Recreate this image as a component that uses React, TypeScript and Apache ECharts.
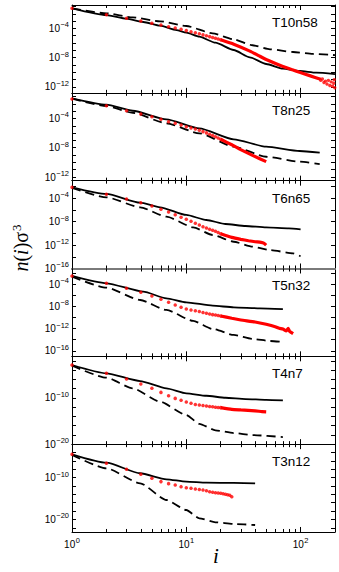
import React, { useEffect, useRef } from "react";
import * as echarts from "echarts";

// ---------- data (x = cluster size i, y = log10 of n(i)σ³) ----------
const panelNames = ["T10n58", "T8n25", "T6n65", "T5n32", "T4n7", "T3n12"];

const xMaxI = 200;
const xMajorI = [1, 10, 100];
const xMinorI = [2, 3, 4, 5, 6, 7, 8, 9, 20, 30, 40, 50, 60, 70, 80, 90];

const yMaxExp = [-0.8, -0.5, -1, -1.2, -1, -2];
const yMinExp = [-12.8, -12.5, -16, -17, -20, -23];
const yLabelExp = [
  [-12, -8, -4],
  [-12, -8, -4],
  [-16, -12, -8, -4],
  [-16, -12, -8, -4],
  [-20, -10],
  [-20, -10],
];
const yTickExp = [
  [-12, -11, -10, -9, -8, -7, -6, -5, -4, -3, -2, -1],
  [-12, -11, -10, -9, -8, -7, -6, -5, -4, -3, -2, -1],
  [-14, -12, -10, -8, -6, -4, -2],
  [-16, -14, -12, -10, -8, -6, -4, -2],
  [-18, -16, -14, -12, -10, -8, -6, -4, -2],
  [-22, -20, -18, -16, -14, -12, -10, -8, -6, -4],
];

// T10n58
const t10n58Solid = [[1, -1.25], [2, -2.17], [3, -2.67], [4.2, -3.12], [5.9, -3.62], [8.2, -4.22], [10, -4.58], [13, -5.13], [18, -5.95], [26, -6.95], [36, -7.95], [50, -8.86], [70, -9.5], [98, -9.82], [137, -10.05], [200, -10.25]];
const t10n58Dashed = [[1, -1.25], [2, -1.94], [3.4, -2.49], [5.9, -3.03], [10, -3.67], [17, -4.67], [26, -5.49], [38, -6.3], [54, -6.85], [86, -7.22], [128, -7.49], [200, -7.65]];
const t10n58RedDots = [-1.25, -2.12, -2.62, -2.99, -3.3, -3.53, -3.76, -3.94, -4.12, -4.3, -4.45, -4.6, -4.74, -4.88, -5.0, -5.12, -5.24, -5.35, -5.45, -5.55];
const t10n58RedTail = [[20, -5.55], [26, -6.15], [36, -7.1], [44, -7.8], [50, -8.25], [70, -9.2], [86, -9.68], [98, -10.0], [120, -10.45], [150, -10.95]];
const t10n58RedNoise = [[150, -11.1], [155, -10.9], [160, -11.4], [165, -11.2], [170, -11.6], [175, -11.1], [180, -11.8], [185, -11.3], [190, -11.9], [195, -11.5], [197, -11.0], [199, -12.1]];

// T8n25
const t8n25Solid = [[1, -1.25], [2, -2.12], [3.4, -2.95], [6.7, -4.12], [13, -5.35], [26, -6.85], [50, -7.86], [98, -8.45], [147, -8.68]];
const t8n25Dashed = [[1, -1.3], [2, -2.3], [3.4, -3.22], [6.7, -4.67], [13, -6.03], [26, -7.86], [50, -9.23], [98, -9.91], [147, -10.23]];
const t8n25RedDots = [-1.35, -2.26, -2.95, -3.4, -3.76, -4.12, -4.45, -4.67, -4.9, -5.13, -5.29, -5.45, -5.62, -5.8, -5.97, -6.15, -6.32, -6.5, -6.67, -6.85];
const t8n25RedTail = [[20, -6.85], [25, -7.6], [29, -8.15], [38, -9.05], [50, -9.9]];

// T6n65
const t6n65Solid = [[1, -2.13], [2, -3.27], [3.95, -4.76], [5.9, -5.55], [10, -6.86], [15, -7.72], [22, -8.4], [33, -8.74], [50, -8.97], [79, -9.14], [100, -9.31]];
const t6n65Dashed = [[1, -2.25], [2, -3.84], [3.95, -5.55], [6.7, -7.15], [11.5, -8.97], [17, -10.28], [26, -11.43], [38, -12.28], [54, -12.85], [86, -13.41], [100, -13.9]];
const t6n65RedDots = [-2.13, -3.33, -4.13, -4.76, -5.32, -5.89, -6.35, -6.81, -7.26, -7.6, -7.94, -8.28, -8.57, -8.86, -9.08, -9.31, -9.48, -9.65, -9.86, -10.06];
const t6n65RedTail = [[20, -10.06], [25, -10.68], [30, -11.02], [35, -11.26], [40, -11.43], [45, -11.53], [48, -11.7], [50, -12.0]];

// T5n32
const t5n32Solid = [[1, -2.55], [2, -3.86], [4.2, -5.37], [6.7, -6.56], [10, -7.28], [17, -7.89], [26, -8.18], [44, -8.36], [70, -8.5]];
const t5n32Dashed = [[1, -2.67], [2, -4.65], [3.95, -6.87], [6.7, -8.66], [11.5, -10.64], [17, -12.08], [26, -13.16], [38, -13.88], [54, -14.24], [70, -14.42]];
const t5n32RedDots = [-2.55, -3.86, -4.76, -5.48, -6.15, -6.74, -7.28, -7.76, -8.18, -8.48, -8.65, -8.79, -8.95, -9.1, -9.26, -9.38, -9.5, -9.58, -9.66, -9.74];
const t5n32RedTail = [[20, -9.74], [25, -10.16], [30, -10.46], [40, -10.82], [50, -11.24], [60, -11.67], [65, -11.96], [70, -12.08], [75, -12.44], [78, -11.95], [80, -12.5], [86, -12.93]];

// T4n7
const t4n7Solid = [[1, -2.88], [2, -4.68], [3.95, -6.35], [6.7, -7.93], [10, -9.0], [15, -9.53], [22, -9.96], [33, -10.24], [50, -10.42], [70, -10.55]];
const t4n7Dashed = [[1, -3.02], [2, -5.62], [3.4, -7.93], [5.9, -10.82], [10, -13.7], [13, -15.6], [18, -17.0], [26, -17.6], [38, -18.04], [70, -18.47]];
const t4n7RedDots = [-2.88, -4.68, -5.91, -7.0, -7.93, -8.8, -9.53, -10.1, -10.5, -10.9, -11.15, -11.4, -11.55, -11.65, -11.76, -11.85, -11.93, -12.0, -12.05, -12.1];
const t4n7RedTail = [[20, -12.1], [25, -12.47], [30, -12.6], [40, -12.8], [46, -12.95], [50, -13.0]];

// T3n12
const t3n12Solid = [[1, -4.42], [2, -6.43], [3.95, -8.96], [6.7, -10.4], [10, -10.97], [15, -11.21], [26, -11.28], [40, -11.36]];
const t3n12Dashed = [[1, -4.58], [2, -7.77], [3.95, -11.36], [6.7, -15.35], [10, -17.74], [13, -19.73], [18, -20.68], [26, -21.09], [40, -21.33]];
const t3n12RedDots = [-4.42, -6.57, -8.0, -9.2, -10.16, -10.96, -11.44, -11.76, -12.16, -12.4, -12.56, -12.72, -12.84, -12.96, -13.16, -13.36, -13.48, -13.6, -13.68, -13.75, -13.87, -13.99, -14.1, -14.23, -14.56];
const t3n12RedTail: number[][] = [];

const panelSolid = [t10n58Solid, t8n25Solid, t6n65Solid, t5n32Solid, t4n7Solid, t3n12Solid];
const panelDashed = [t10n58Dashed, t8n25Dashed, t6n65Dashed, t5n32Dashed, t4n7Dashed, t3n12Dashed];
const panelRedDots = [t10n58RedDots, t8n25RedDots, t6n65RedDots, t5n32RedDots, t4n7RedDots, t3n12RedDots];
const panelRedTail = [t10n58RedTail, t8n25RedTail, t6n65RedTail, t5n32RedTail, t4n7RedTail, t3n12RedTail];
const panelRedNoise = [t10n58RedNoise, [], [], [], [], []];

// ---------- layout / style ----------
const FONT = "'Liberation Sans', Arial, sans-serif";
const SERIF = "'Liberation Serif', 'Times New Roman', serif";
const GRID_LEFT = 72;
const GRID_RIGHT = 4;
const FIRST_TOP = 5;
const PANEL_H = 87.83;
const RED = "#ff0000";

const L = (v: number) => Math.log10(v);

function tickRich() {
  return {
    b: { fontSize: 10, fontFamily: FONT, color: "#000" },
    s: { fontSize: 7.5, fontFamily: FONT, color: "#000", padding: [0, 0, 7, 0.5] },
  };
}

function buildOption() {
  const grid: any[] = [];
  const xAxis: any[] = [];
  const yAxis: any[] = [];
  const series: any[] = [];
  const graphic: any[] = [];
  const n = panelNames.length;

  for (let k = 0; k < n; k++) {
    const top = FIRST_TOP + k * PANEL_H;
    grid.push({ left: GRID_LEFT, right: GRID_RIGHT, top, height: PANEL_H, containLabel: false });
    const grayBottom = k === 2;
    const grayTop = k === 3;

    const majorX = (position: string, showLabel: boolean, gray: boolean) => ({
      type: "value",
      gridIndex: k,
      position,
      min: 0,
      max: L(xMaxI),
      axisLine: { show: true, onZero: false, lineStyle: { color: gray ? "#7a7a7a" : "#000", width: gray ? 1.8 : 1 } },
      axisTick: { show: true, inside: true, length: 5, customValues: xMajorI.map(L), lineStyle: { color: "#000", width: 1 } },
      axisLabel: {
        show: showLabel,
        customValues: xMajorI.map(L),
        margin: 5,
        formatter: (v: number) => `{b|10}{s|${Math.round(v)}}`,
        rich: tickRich(),
      },
      splitLine: { show: false },
    });
    const minorX = (position: string) => ({
      type: "value",
      gridIndex: k,
      position,
      min: 0,
      max: L(xMaxI),
      axisLine: { show: false, onZero: false },
      axisTick: { show: true, inside: true, length: 3, customValues: xMinorI.map(L), lineStyle: { color: "#000", width: 1 } },
      axisLabel: { show: false },
      splitLine: { show: false },
    });
    xAxis.push(majorX("bottom", k === n - 1, grayBottom));
    xAxis.push(majorX("top", false, grayTop));
    xAxis.push(minorX("bottom"));
    xAxis.push(minorX("top"));

    const yAx = (position: string, showLabel: boolean) => ({
      type: "value",
      gridIndex: k,
      position,
      min: yMinExp[k],
      max: yMaxExp[k],
      axisLine: { show: true, onZero: false, lineStyle: { color: "#000", width: 1 } },
      axisTick: { show: true, inside: true, length: 4, customValues: yTickExp[k], lineStyle: { color: "#000", width: 1 } },
      axisLabel: {
        show: showLabel,
        customValues: yLabelExp[k],
        margin: 3,
        formatter: (v: number) => `{b|10}{s|\u2212${Math.round(-v)}}`,
        rich: tickRich(),
      },
      splitLine: { show: false },
    });
    yAxis.push(yAx("left", true));
    yAxis.push(yAx("right", false));

    const xi = 4 * k;
    const yi = 2 * k;
    series.push({
      type: "line",
      xAxisIndex: xi,
      yAxisIndex: yi,
      data: panelDashed[k].map(([i, v]) => [L(i), v]),
      showSymbol: false,
      smooth: 0.2,
      smoothMonotone: "x",
      lineStyle: { color: "#000", width: 1.8, type: [9, 5] },
      z: 2,
    });
    series.push({
      type: "line",
      xAxisIndex: xi,
      yAxisIndex: yi,
      data: panelSolid[k].map(([i, v]) => [L(i), v]),
      showSymbol: false,
      smooth: 0.2,
      smoothMonotone: "x",
      lineStyle: { color: "#000", width: 1.8 },
      z: 3,
    });
    if (panelRedTail[k].length) {
      series.push({
        type: "line",
        xAxisIndex: xi,
        yAxisIndex: yi,
        data: panelRedTail[k].map(([i, v]) => [L(i), v]),
        showSymbol: false,
        smooth: 0.15,
        lineStyle: { color: RED, width: 3.2 },
        z: 4,
      });
    }
    series.push({
      type: "scatter",
      xAxisIndex: xi,
      yAxisIndex: yi,
      data: panelRedDots[k].map((v, j) => [L(j + 1), v]),
      symbol: "circle",
      symbolSize: 3.5,
      itemStyle: { color: RED },
      z: 5,
    });
    if (panelRedNoise[k].length) {
      series.push({
        type: "scatter",
        xAxisIndex: xi,
        yAxisIndex: yi,
        data: panelRedNoise[k].map(([i, v]) => [L(i), v]),
        symbol: "circle",
        symbolSize: 3.4,
        itemStyle: { color: RED },
        z: 5,
      });
    }

    graphic.push({
      type: "text",
      x: 272,
      y: top + 17.5,
      style: {
        text: panelNames[k],
        fontFamily: FONT,
        fontSize: 13.5,
        fill: "#000",
        align: "left",
        verticalAlign: "middle",
      },
    });
  }

  graphic.push({
    type: "text",
    x: 21,
    y: 248,
    rotation: Math.PI / 2,
    style: {
      text: "{a|n}{b|(}{a|i}{b|)\u03c3}{c|3}",
      align: "center",
      verticalAlign: "middle",
      fill: "#000",
      rich: {
        a: { fontFamily: SERIF, fontStyle: "italic", fontSize: 20, color: "#000" },
        b: { fontFamily: SERIF, fontSize: 20, color: "#000" },
        c: { fontFamily: SERIF, fontSize: 13, color: "#000", padding: [0, 0, 10, 1] },
      },
    },
  });
  graphic.push({
    type: "text",
    x: 216,
    y: 556,
    style: {
      text: "i",
      fontFamily: SERIF,
      fontStyle: "italic",
      fontSize: 21,
      fill: "#000",
      align: "center",
      verticalAlign: "middle",
    },
  });

  return { animation: false, backgroundColor: "#fff", grid, xAxis, yAxis, series, graphic };
}

export default function App() {
  const ref = useRef<HTMLDivElement>(null);
  useEffect(() => {
    document.body.style.margin = "0";
    if (!ref.current) return;
    const chart = echarts.init(ref.current, undefined, { renderer: "svg" });
    chart.setOption(buildOption() as any);
    return () => chart.dispose();
  }, []);
  return <div ref={ref} style={{ width: 339, height: 572 }} />;
}
